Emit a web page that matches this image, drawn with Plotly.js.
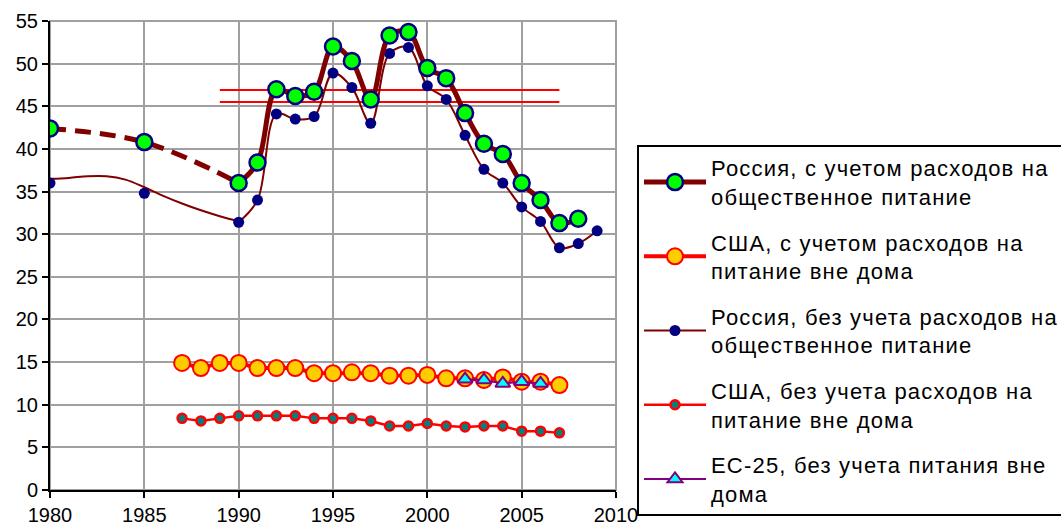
<!DOCTYPE html>
<html><head><meta charset="utf-8">
<script src="https://cdn.plot.ly/plotly-3.0.1.min.js"></script>
<style>body{margin:0;background:#fff;overflow:hidden}#chart{width:1061px;height:525px}
.legendtext{letter-spacing:1.2px}</style>
</head><body><div id="chart"></div>
<script>
// Russia, including catering
const ruWithYears = [1980,1985,1990,1991,1992,1993,1994,1995,1996,1997,1998,1999,2000,2001,2002,2003,2004,2005,2006,2007,2008];
const ruWithVals  = [42.4,40.8,36.0,38.4,47.0,46.2,46.7,52.0,50.3,45.8,53.3,53.7,49.5,48.3,44.2,40.6,39.4,36.0,34.0,31.3,31.8];
// Russia, excluding catering (markers)
const ruWoYears = [1980,1985,1990,1991,1992,1993,1994,1995,1996,1997,1998,1999,2000,2001,2002,2003,2004,2005,2006,2007,2008,2009];
const ruWoVals  = [36.0,34.8,31.4,34.0,44.1,43.5,43.8,48.9,47.2,43.0,51.2,51.9,47.4,45.8,41.6,37.6,36.0,33.2,31.5,28.4,28.9,30.4];
// Russia, excluding catering: early yearly line 1980-1990
const ruWoEarlyYears = [1980,1981,1982,1983,1984,1985,1986,1987,1988,1989,1990];
const ruWoEarlyVals  = [36.5,36.6,36.8,36.8,36.4,35.5,34.5,33.6,32.8,32.1,31.5];
// USA
const usYears   = [1987,1988,1989,1990,1991,1992,1993,1994,1995,1996,1997,1998,1999,2000,2001,2002,2003,2004,2005,2006,2007];
const usWithVals= [14.9,14.3,14.9,14.9,14.3,14.3,14.3,13.7,13.7,13.8,13.7,13.4,13.4,13.5,13.1,13.1,12.9,13.2,12.7,12.7,12.3];
const usWoVals  = [8.4,8.1,8.4,8.7,8.7,8.7,8.7,8.4,8.4,8.4,8.1,7.5,7.5,7.8,7.5,7.4,7.5,7.5,6.9,6.9,6.7];
// EU-25
const euYears = [2002,2003,2004,2005,2006];
const euVals  = [13.0,12.9,12.5,12.7,12.5];
// Reference horizontal lines
const refLineYears = [1989,2007];
const refLine1 = [46.9,46.9];
const refLine2 = [45.5,45.5];
// Tick labels
const xTicks = [1980,1985,1990,1995,2000,2005,2010];
const yTicks = [0,5,10,15,20,25,30,35,40,45,50,55];

const names = [
  'Россия, с учетом расходов на<br>общественное питание',
  'США, с учетом расходов на<br>питание вне дома',
  'Россия, без учета расходов на<br>общественное питание',
  'США, без учета расходов на<br>питание вне дома',
  'ЕС-25, без учета питания вне<br>дома'
];

const traces = [
  {x: refLineYears, y: refLine1, mode:'lines', line:{color:'#ff0000', width:2}, showlegend:false, hoverinfo:'skip'},
  {x: refLineYears, y: refLine2, mode:'lines', line:{color:'#ff0000', width:2}, showlegend:false, hoverinfo:'skip'},
  {x: usYears, y: usWoVals, mode:'lines+markers', name:names[3], legendrank:4, legendgroup:'g4',
   line:{color:'#ff0000', width:2.5}, marker:{size:9, color:'#008080', line:{color:'#ff0000', width:2.5}}},
  {x: usYears, y: usWithVals, mode:'lines+markers', name:names[1], legendrank:2, legendgroup:'g2',
   line:{color:'#ff0000', width:4}, marker:{size:16, color:'#ffcc00', line:{color:'#ff0000', width:2}}},
  {x: euYears, y: euVals, mode:'lines+markers', name:names[4], legendrank:5, legendgroup:'g5',
   line:{color:'#800080', width:2}, marker:{symbol:'triangle-up', size:13, color:'#00ffff', line:{color:'#800080', width:2}}},
  {x: ruWoEarlyYears, y: ruWoEarlyVals, mode:'lines', line:{color:'#800000', width:2, shape:'spline', smoothing:1}, showlegend:false, hoverinfo:'skip'},
  {x: ruWoYears.slice(0,2), y: ruWoVals.slice(0,2), mode:'markers', marker:{size:11, color:'#000080'}, showlegend:false},
  {x: ruWoYears.slice(2), y: ruWoVals.slice(2), mode:'lines+markers', name:names[2], legendrank:3, legendgroup:'g3',
   line:{color:'#800000', width:2, shape:'spline', smoothing:1}, marker:{size:11, color:'#000080'}},
  {x: ruWithYears.slice(0,3), y: ruWithVals.slice(0,3), mode:'lines', line:{color:'#800000', width:5, dash:'16px,9px', shape:'spline', smoothing:1}, showlegend:false, hoverinfo:'skip'},
  {x: ruWithYears.slice(2), y: ruWithVals.slice(2), mode:'lines+markers', name:names[0], legendrank:1, legendgroup:'g1',
   line:{color:'#800000', width:5, shape:'spline', smoothing:1}, marker:{size:16, color:'#00ff00', line:{color:'#000080', width:2.5}}},
  {x: ruWithYears.slice(0,2), y: ruWithVals.slice(0,2), mode:'markers', marker:{size:16, color:'#00ff00', line:{color:'#000080', width:2.5}}, showlegend:false}
];

const layout = {
  width:1061, height:525,
  margin:{l:50, r:445, t:21, b:35},
  paper_bgcolor:'#fff', plot_bgcolor:'#fff',
  font:{family:'Liberation Sans, Arial, sans-serif', size:20, color:'#000'},
  showlegend:true,
  xaxis:{range:[1980,2010], tickvals:xTicks, ticktext:xTicks.map(String), showgrid:true, gridcolor:'#a0a0a0', gridwidth:2,
         zeroline:false, showline:true, linecolor:'#000', linewidth:2, ticks:'outside', ticklen:6, tickwidth:2, tickcolor:'#000',
         tickfont:{size:20}, fixedrange:true, automargin:false},
  yaxis:{range:[0,55], tickvals:yTicks, ticktext:yTicks.map(String), showgrid:true, gridcolor:'#a0a0a0', gridwidth:2,
         zeroline:false, showline:true, linecolor:'#000', linewidth:2, ticks:'outside', ticklen:6, tickwidth:2, tickcolor:'#000',
         tickfont:{size:20}, fixedrange:true, automargin:false},
  shapes:[{type:'rect', xref:'paper', yref:'paper', x0:0, x1:1, y0:0, y1:1, line:{color:'#a0a0a0', width:2}, layer:'below'}],
  legend:{xref:'container', yref:'container', x:637/1061, y:1-145/525, xanchor:'left', yanchor:'top', maxheight:600,
          bordercolor:'#000', borderwidth:2, bgcolor:'#fff',
          font:{size:22, family:'Liberation Sans, Arial, sans-serif'}, traceorder:'grouped', tracegroupgap:14, itemwidth:62}
};

Plotly.newPlot('chart', traces, layout, {displayModeBar:false, staticPlot:true});
</script></body></html>
